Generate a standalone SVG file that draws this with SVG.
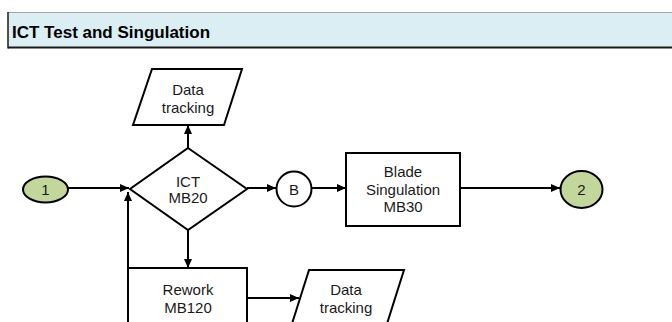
<svg xmlns="http://www.w3.org/2000/svg" width="672" height="322" viewBox="0 0 672 322">
<style>
text{font-family:"Liberation Sans",Arial,sans-serif;font-size:15px;fill:#1a1a1a;text-anchor:middle}
.title{font-size:17px;font-weight:bold;text-anchor:start;fill:#000}
.shape{fill:#fff;stroke:#000;stroke-width:2}
.term{fill:#C3D69B;stroke:#000;stroke-width:2}
.conn{fill:none;stroke:#000;stroke-width:2}
</style>
<defs>
<marker id="arr" markerUnits="userSpaceOnUse" markerWidth="9" markerHeight="8" refX="9" refY="4" orient="auto">
<path d="M0,0 L9,4 L0,8 z" fill="#000"/>
</marker>
</defs>
<rect width="672" height="322" fill="#fff"/>
<g id="header">
<rect x="8" y="12" width="670" height="36" fill="#DBEEF4"/>
<line x1="8" y1="12.5" x2="672" y2="12.5" stroke="#A6A6A6" stroke-width="1"/>
<line x1="8" y1="47.5" x2="672" y2="47.5" stroke="#1a1a1a" stroke-width="2"/>
<line x1="8" y1="12" x2="8" y2="48.5" stroke="#1a1a1a" stroke-width="1.5"/>
<text class="title" x="12" y="38">ICT Test and Singulation</text>
</g>
<g id="connectors">
<line class="conn" x1="68" y1="188" x2="129" y2="188" marker-end="url(#arr)"/>
<line class="conn" x1="128" y1="322" x2="128" y2="192" marker-end="url(#arr)"/>
<line class="conn" x1="188" y1="148" x2="188" y2="125" marker-end="url(#arr)"/>
<line class="conn" x1="188" y1="230" x2="188" y2="268" marker-end="url(#arr)"/>
<line class="conn" x1="247" y1="188" x2="276" y2="188" marker-end="url(#arr)"/>
<line class="conn" x1="312" y1="188" x2="346" y2="188" marker-end="url(#arr)"/>
<line class="conn" x1="460" y1="188" x2="560" y2="188" marker-end="url(#arr)"/>
<line class="conn" x1="247" y1="298" x2="299" y2="298" marker-end="url(#arr)"/>
</g>
<g id="start1">
<ellipse class="term" cx="45.5" cy="189.5" rx="22.5" ry="13"/>
<text x="45.5" y="195">1</text>
</g>
<g id="data1">
<polygon class="shape" points="152,69 242,69 224,125 133,125"/>
<text x="188" y="95">Data</text>
<text x="188" y="113">tracking</text>
</g>
<g id="ict">
<polygon class="shape" points="188,148 247,189 188,230 130,189"/>
<text x="188" y="187">ICT</text>
<text x="188" y="203">MB20</text>
</g>
<g id="connB">
<circle class="shape" cx="294" cy="189" r="17.5"/>
<text x="294" y="194.5">B</text>
</g>
<g id="blade">
<rect class="shape" x="346" y="153" width="114" height="73"/>
<text x="403" y="177">Blade</text>
<text x="403" y="195">Singulation</text>
<text x="403" y="212">MB30</text>
</g>
<g id="end2">
<ellipse class="term" cx="581.5" cy="189.5" rx="21" ry="18.5"/>
<text x="581.5" y="195">2</text>
</g>
<g id="rework">
<rect class="shape" x="128" y="268" width="119" height="70"/>
<text x="188" y="295">Rework</text>
<text x="188" y="313">MB120</text>
</g>
<g id="data2">
<polygon class="shape" points="309,270 404,270 385,330 290,330"/>
<text x="346" y="295">Data</text>
<text x="346" y="313">tracking</text>
</g>
</svg>
